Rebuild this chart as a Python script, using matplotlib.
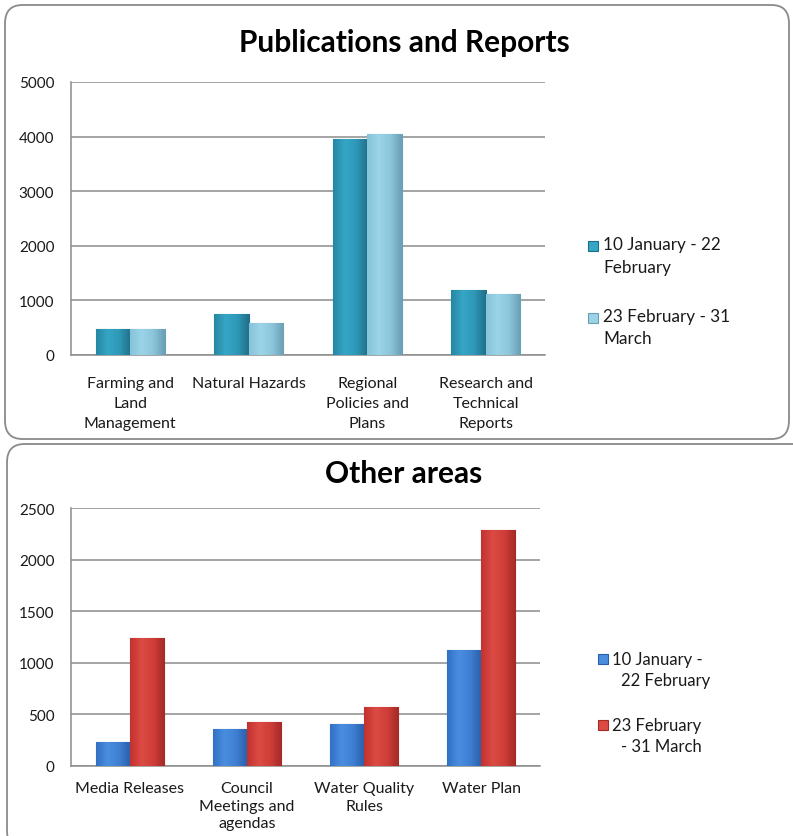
import matplotlib
matplotlib.use("Agg")
import matplotlib.pyplot as plt
import numpy as np
from matplotlib.patches import FancyBboxPatch, Rectangle
from matplotlib.colors import LinearSegmentedColormap

plt.rcParams['font.family'] = ['Lato', 'DejaVu Sans']

# ---------------- data ----------------
pub_categories = ["Farming and\nLand\nManagement", "Natural Hazards",
                  "Regional\nPolicies and\nPlans", "Research and\nTechnical\nReports"]
pub_series1 = [470, 745, 3950, 1190]
pub_series2 = [480, 575, 4045, 1120]
pub_labels = ["10 January - 22\nFebruary", "23 February - 31\nMarch"]
pub_yticks = [0, 1000, 2000, 3000, 4000, 5000]

oth_categories = ["Media Releases", "Council\nMeetings and\nagendas",
                  "Water Quality\nRules", "Water Plan"]
oth_series1 = [225, 355, 400, 1125]
oth_series2 = [1235, 420, 568, 2292]
oth_labels = [("10 January -", "22 February"), ("23 February", "- 31 March")]
oth_yticks = [0, 500, 1000, 1500, 2000, 2500]

# colour ramps (left -> light -> right)
teal = ["#2686a3", "#36a6c6", "#2f98b8", "#20708a"]
lteal = ["#86c4da", "#9bd4e7", "#8cc6db", "#6a9fb5"]
blue = ["#3270c4", "#4a8ee0", "#3f7fd3", "#2a5ea8"]
red = ["#c2322e", "#dc4a44", "#d03e39", "#a42a26"]

W, H = 793, 837
fig = plt.figure(figsize=(W / 100, H / 100), dpi=100)
fig.patch.set_facecolor("white")


def fx(px):
    return px / W


def fy(py):
    return 1 - py / H


def box(x0, y0, x1, y1):
    p = FancyBboxPatch((fx(x0), fy(y1)), fx(x1) - fx(x0), fy(y0) - fy(y1),
                       boxstyle="round,pad=0,rounding_size=0.022",
                       transform=fig.transFigure, facecolor="white",
                       edgecolor="#8a8a8a", linewidth=1.3, zorder=-5)
    fig.patches.append(p)


box(5, 6, 789, 440)
box(7, 445, 815, 850)


def make_axes(left, right, top, bottom):
    ax = fig.add_axes([fx(left), fy(bottom), fx(right) - fx(left), fy(top) - fy(bottom)])
    ax.set_facecolor("none")
    ax.set_zorder(2)
    return ax


def style(ax, yticks, cats, ymax, cat_pad, lsp):
    ax.set_ylim(0, ymax)
    ax.set_xlim(-0.5, len(cats) - 0.5)
    ax.set_yticks(yticks)
    ax.set_yticklabels([str(v) for v in yticks], fontsize=11, color="#1a1a1a")
    ax.set_xticks(np.arange(len(cats)))
    ax.set_xticklabels(cats, fontsize=11.5, color="#1a1a1a", linespacing=lsp, va="top")
    ax.tick_params(axis="both", length=0)
    ax.tick_params(axis="y", pad=12)
    ax.tick_params(axis="x", pad=cat_pad)
    ax.grid(axis="y", color="#8c8c8c", linewidth=1.1)
    ax.set_axisbelow(True)
    for s in ["top", "right"]:
        ax.spines[s].set_visible(False)
    ax.spines["left"].set_color("#8c8c8c")
    ax.spines["bottom"].set_color("#8c8c8c")
    ax.spines["left"].set_linewidth(1.1)
    ax.spines["bottom"].set_linewidth(1.1)


grad = np.linspace(0, 1, 64).reshape(1, -1)


def shade(ax, bars, ramp, edge):
    cmap = LinearSegmentedColormap.from_list("r", ramp)
    for b in bars:
        x0, y0 = b.get_x(), b.get_y()
        w, h = b.get_width(), b.get_height()
        im = ax.imshow(grad, cmap=cmap, aspect="auto", extent=(x0, x0 + w, y0, y0 + h),
                       zorder=3.5, interpolation="bicubic")
        im.set_clip_path(b)
        b.set_edgecolor(edge)


def draw_bars(ax, vals1, vals2, r1, r2, e1, e2, ymax):
    x = np.arange(len(vals1))
    w = 0.29
    b1 = ax.bar(x - w / 2, vals1, w, color=r1[2], linewidth=0.8, zorder=3)
    b2 = ax.bar(x + w / 2, vals2, w, color=r2[2], linewidth=0.8, zorder=3)
    shade(ax, b1, r1, e1)
    shade(ax, b2, r2, e2)
    ax.set_xlim(-0.5, len(vals1) - 0.5)
    ax.set_ylim(0, ymax)


# ---------------- top chart ----------------
ax1 = make_axes(71, 545, 83, 355.7)
style(ax1, pub_yticks, pub_categories, 5000, 15, 1.55)
draw_bars(ax1, pub_series1, pub_series2, teal, lteal, "#1d6f88", "#6a9fb5", 5000)
fig.text(fx(404), fy(43), "Publications and Reports", ha="center", va="center",
         fontsize=21.5, fontweight="bold", color="black")

# legend top
for i, (lab, col, ec) in enumerate(zip(pub_labels, [teal[1], lteal[1]], ["#1d6f88", "#6a9fb5"])):
    yc = [247, 319][i]
    fig.patches.append(Rectangle((fx(588), fy(yc + 5)), fx(10), 10 / H,
                                 transform=fig.transFigure, facecolor=col,
                                 edgecolor=ec, linewidth=0.8))
    fig.text(fx(603), fy(yc - 10), lab, ha="left", va="top", fontsize=12.3,
             color="#1a1a1a", linespacing=1.5)

# ---------------- bottom chart ----------------
ax2 = make_axes(71, 540, 509.3, 766.5)
style(ax2, oth_yticks, oth_categories, 2500, 11, 1.35)
draw_bars(ax2, oth_series1, oth_series2, blue, red, "#2a5ea8", "#a42a26", 2500)
fig.text(fx(404), fy(474), "Other areas", ha="center", va="center",
         fontsize=21.5, fontweight="bold", color="black")

for i, ((l1, l2), col, ec) in enumerate(zip(oth_labels, [blue[1], red[1]], ["#2a5ea8", "#a42a26"])):
    yc = [660, 726][i]
    fig.patches.append(Rectangle((fx(598), fy(yc + 5)), fx(10), 10 / H,
                                 transform=fig.transFigure, facecolor=col,
                                 edgecolor=ec, linewidth=0.8))
    fig.text(fx(612), fy(yc), l1, ha="left", va="center", fontsize=12, color="#1a1a1a")
    fig.text(fx(621), fy(yc + 21), l2, ha="left", va="center", fontsize=12, color="#1a1a1a")

fig.savefig("out.png", dpi=100)
